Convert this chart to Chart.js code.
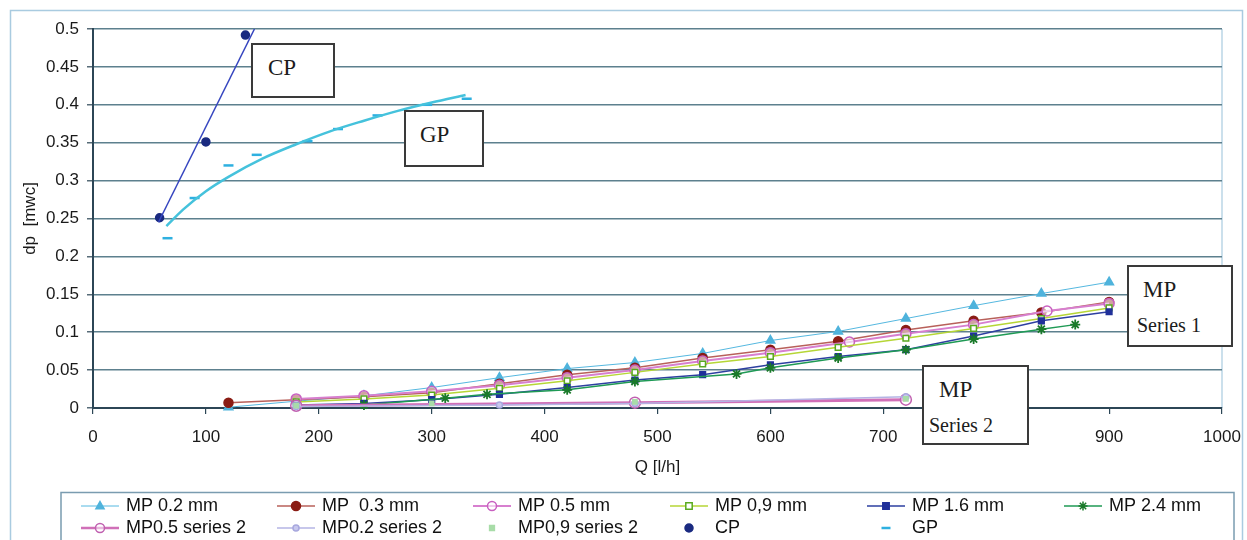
<!DOCTYPE html>
<html><head><meta charset="utf-8">
<script src="https://cdn.jsdelivr.net/npm/chart.js@4.4.1/dist/chart.umd.min.js"></script>
<style>
html,body{margin:0;padding:0;background:#fff;}
#wrap{position:relative;width:1247px;height:540px;overflow:hidden;background:#fff;}
#c{position:absolute;left:0;top:0;}
.note{position:absolute;background:#fff;border:2px solid #3a3a3a;box-sizing:border-box;font-family:"Liberation Serif","Times New Roman",serif;color:#1c1c1c;}
.note span{position:absolute;line-height:1;white-space:nowrap;}
</style></head><body>
<div id="wrap">
<canvas id="c" width="1247" height="540"></canvas>
<div class="note" style="left:251px;top:43px;width:84px;height:55px;"><span style="left:15px;top:11px;font-size:23px;">CP</span></div>
<div class="note" style="left:404px;top:110px;width:80px;height:57px;"><span style="left:14px;top:11px;font-size:23px;">GP</span></div>
<div class="note" style="left:1127px;top:265px;width:106px;height:82px;"><span style="left:14px;top:11px;font-size:23px;">MP</span><span style="left:8px;top:48px;font-size:20px;">Series 1</span></div>
<div class="note" style="left:922px;top:365px;width:107px;height:80px;"><span style="left:15px;top:11px;font-size:23px;">MP</span><span style="left:5px;top:48px;font-size:20px;">Series 2</span></div>
</div>
<script>
// ---- tick labels ----
const xTicks = [0,100,200,300,400,500,600,700,800,900,1000];
const yTickValues = [0,0.05,0.1,0.15,0.2,0.25,0.3,0.35,0.4,0.45,0.5];
const yTickLabels = ['0','0.05','0.1','0.15','0.2','0.25','0.3','0.35','0.4','0.45','0.5'];

// ---- series (Q [l/h], dp [mwc]) ----
const mp02Q = [120,180,240,300,360,420,480,540,600,660,720,780,840,900];
const mp02  = [0.001,0.009,0.016,0.027,0.040,0.052,0.060,0.072,0.089,0.101,0.118,0.135,0.151,0.166];
const mp03Q = [120,180,240,300,360,420,480,540,600,660,720,780,840,900];
const mp03  = [0.007,0.011,0.015,0.020,0.032,0.044,0.053,0.066,0.077,0.088,0.103,0.115,0.126,0.140];
const mp05Q = [180,240,300,360,420,480,540,600,670,720,780,845,900];
const mp05  = [0.012,0.016,0.022,0.030,0.040,0.050,0.062,0.073,0.087,0.098,0.110,0.128,0.138];
const mp09Q = [180,240,300,360,420,480,540,600,660,720,780,840,900];
const mp09  = [0.008,0.012,0.017,0.026,0.036,0.047,0.058,0.068,0.080,0.092,0.105,0.118,0.132];
const mp16Q = [180,240,300,360,420,480,540,600,660,720,780,840,900];
const mp16  = [0.004,0.006,0.011,0.018,0.027,0.037,0.044,0.057,0.068,0.077,0.095,0.115,0.127];
const mp24Q = [240,312,349,420,480,570,600,660,720,780,840,870];
const mp24  = [0.004,0.013,0.018,0.024,0.035,0.045,0.053,0.066,0.077,0.091,0.104,0.110];
const mp05s2Q = [180,480,720];
const mp05s2  = [0.003,0.007,0.011];
const mp02s2Q = [180,360,480,720];
const mp02s2  = [0.002,0.004,0.006,0.015];
const mp09s2Q = [180,300,480,720];
const mp09s2  = [0.003,0.006,0.008,0.012];
const cpQ  = [59,100,135];
const cpDp = [0.251,0.351,0.492];
const cpTrendQ  = [58,143];
const cpTrendDp = [0.245,0.500];
const gpQ  = [66,90,120,145,190,217,252,296,331];
const gpDp = [0.224,0.277,0.320,0.334,0.352,0.368,0.386,0.400,0.408];
const gpTrendQ  = [65,80,100,120,150,180,210,240,270,300,330];
const gpTrendDp = [0.240,0.262,0.286,0.305,0.329,0.348,0.365,0.379,0.392,0.403,0.413];

const labels = ['MP 0.2 mm','MP  0.3 mm','MP 0.5 mm','MP 0,9 mm','MP 1.6 mm','MP 2.4 mm',
                'MP0.5 series 2','MP0.2 series 2','MP0,9 series 2','CP','GP'];

const pts = (xs, ys) => xs.map((x, i) => ({x: x, y: ys[i]}));
const FONT = '"Liberation Sans", Arial, sans-serif';

const styles = [
  {line:'#55b8e0', lw:1, ps:'triangle', r:5, fill:'#4fb3dc', stroke:'#4fb3dc', show:true},
  {line:'#b8605a', lw:1.5, ps:'circle', r:4.5, fill:'#8a1c14', stroke:'#8a1c14', show:true},
  {line:'#d77fcf', lw:2, ps:'circle', r:5, fill:'rgba(255,255,255,0.6)', stroke:'#c860c0', show:true},
  {line:'#b6d636', lw:1.5, ps:'rect', r:4, fill:'#ffffff', stroke:'#5aaa20', show:true},
  {line:'#2d3fa0', lw:1.5, ps:'rect', r:4, fill:'#20309a', stroke:'#20309a', show:true},
  {line:'#1f9a55', lw:1.5, ps:'star', r:5, fill:'#1a7a2a', stroke:'#1a7a2a', show:true},
  {line:'#d070b8', lw:3, ps:'circle', r:5.5, fill:'rgba(255,255,255,0.5)', stroke:'#c060b0', show:true},
  {line:'#b4b4e4', lw:1.5, ps:'circle', r:3, fill:'#c8c8ee', stroke:'#a8a8de', show:true},
  {line:null, lw:0, ps:'rect', r:3, fill:'#a8dca8', stroke:'#a8dca8', show:false},
  {line:null, lw:0, ps:'circle', r:4, fill:'#1a2a80', stroke:'#1a2a80', show:false},
  {line:null, lw:0, ps:'line', r:5, fill:'#2eb0e0', stroke:'#2eb0e0', show:false}
];
const seriesData = [
  pts(mp02Q, mp02), pts(mp03Q, mp03), pts(mp05Q, mp05), pts(mp09Q, mp09), pts(mp16Q, mp16),
  pts(mp24Q, mp24), pts(mp05s2Q, mp05s2), pts(mp02s2Q, mp02s2), pts(mp09s2Q, mp09s2),
  pts(cpQ, cpDp), pts(gpQ, gpDp)
];

const datasets = seriesData.map((d, i) => {
  const s = styles[i];
  return {
    label: labels[i], data: d,
    showLine: s.show, borderColor: s.line || s.stroke, borderWidth: s.lw,
    pointStyle: s.ps, pointRadius: s.r, pointBackgroundColor: s.fill,
    pointBorderColor: s.stroke, pointBorderWidth: s.ps === 'line' ? 2.5 : (s.ps === 'star' ? 1.8 : 1.5),
    tension: 0, order: 20 - i, clip: false
  };
});
datasets.push({label:'CP trend', data: pts(cpTrendQ, cpTrendDp), showLine:true, borderColor:'#3545c0',
  borderWidth:1.5, pointRadius:0, order: 5});
datasets.push({label:'GP trend', data: pts(gpTrendQ, gpTrendDp), showLine:true, borderColor:'#45c2dc',
  borderWidth:2.5, pointRadius:0, cubicInterpolationMode:'monotone', order: 6});

function drawMarker(ctx, st, x, y) {
  const r = st.r;
  ctx.save();
  ctx.fillStyle = st.fill; ctx.strokeStyle = st.stroke;
  ctx.lineWidth = st.ps === 'line' ? 2.5 : 1.5;
  ctx.beginPath();
  if (st.ps === 'circle') { ctx.arc(x, y, r, 0, Math.PI * 2); ctx.fill(); ctx.stroke(); }
  else if (st.ps === 'rect') { ctx.rect(x - r * 0.8, y - r * 0.8, r * 1.6, r * 1.6); ctx.fill(); ctx.stroke(); }
  else if (st.ps === 'triangle') { ctx.moveTo(x, y - r); ctx.lineTo(x + r * 0.9, y + r * 0.6); ctx.lineTo(x - r * 0.9, y + r * 0.6); ctx.closePath(); ctx.fill(); ctx.stroke(); }
  else if (st.ps === 'star') {
    for (let k = 0; k < 4; k++) { const a = k * Math.PI / 4; ctx.moveTo(x - r * Math.cos(a), y - r * Math.sin(a)); ctx.lineTo(x + r * Math.cos(a), y + r * Math.sin(a)); }
    ctx.stroke();
  } else if (st.ps === 'line') { ctx.moveTo(x - r, y); ctx.lineTo(x + r, y); ctx.stroke(); }
  ctx.restore();
}

const framePlugin = {
  id: 'frame',
  beforeDraw(chart) {
    const ctx = chart.ctx;
    ctx.save();
    ctx.fillStyle = '#fff'; ctx.fillRect(0, 0, chart.width, chart.height);
    ctx.strokeStyle = '#a9cbe0'; ctx.lineWidth = 1.5;
    ctx.strokeRect(10.5, 10.5, 1232, 600);
    const a = chart.chartArea;
    ctx.strokeStyle = '#a9cbe0'; ctx.lineWidth = 1.2;
    ctx.beginPath(); ctx.moveTo(a.right, a.top); ctx.lineTo(a.right, a.bottom); ctx.stroke();
    ctx.restore();
  },
  afterDraw(chart) {
    const ctx = chart.ctx;
    ctx.save();
    // legend box
    ctx.strokeStyle = '#7a9cb0'; ctx.lineWidth = 1.5;
    ctx.strokeRect(61, 492.5, 1173, 80);
    const colX = [126, 322, 518, 715, 912, 1109];
    const rowY = [506, 528];
    ctx.font = '18px ' + FONT; ctx.fillStyle = '#111'; ctx.textBaseline = 'middle';
    labels.forEach((lab, i) => {
      const row = i < 6 ? 0 : 1, col = i < 6 ? i : i - 6;
      const tx = colX[col], ty = rowY[row];
      const st = styles[i];
      if (st.show) {
        ctx.strokeStyle = st.line; ctx.lineWidth = Math.min(st.lw, 2.5);
        ctx.beginPath(); ctx.moveTo(tx - 45, ty); ctx.lineTo(tx - 7, ty); ctx.stroke();
      }
      drawMarker(ctx, {...st, r: Math.min(st.r, 4.5)}, tx - 26, ty);
      ctx.fillStyle = '#111';
      ctx.fillText(lab, tx, ty);
    });
    ctx.restore();
  }
};

new Chart(document.getElementById('c'), {
  type: 'scatter',
  data: { datasets: datasets },
  options: {
    responsive: false, animation: false, devicePixelRatio: 1,
    layout: { padding: { left: 0, right: 25, top: 29, bottom: 62 } },
    plugins: { legend: { display: false }, tooltip: { enabled: false } },
    scales: {
      x: {
        type: 'linear', position: 'bottom', min: 0, max: 1000,
        afterFit: s => { s.height = 70; s.paddingLeft = 0; s.paddingRight = 0; },
        afterBuildTicks: s => { s.ticks = xTicks.map(v => ({value: v})); },
        ticks: { font: { size: 17, family: FONT }, color: '#1a1a1a', padding: 13, maxRotation: 0,
                 callback: v => String(v) },
        grid: { drawOnChartArea: false, drawTicks: true, tickLength: 6, color: '#2c4656', lineWidth: 1.2 },
        border: { display: true, color: '#2c4656', width: 2 },
        title: { display: true, text: 'Q [l/h]', font: { size: 17, family: FONT }, color: '#1a1a1a',
                 padding: { top: 0, bottom: 0 } }
      },
      y: {
        type: 'linear', min: 0, max: 0.5,
        afterFit: s => { s.width = 93; s.paddingTop = 0; s.paddingBottom = 0; },
        afterBuildTicks: s => { s.ticks = yTickValues.map(v => ({value: v})); },
        ticks: { font: { size: 17, family: FONT }, color: '#1a1a1a', padding: 8,
                 callback: (v, i) => yTickLabels[i] },
        grid: { color: '#5d808e', lineWidth: 1.6, tickLength: 6, tickColor: '#2c4656', tickWidth: 1.2 },
        border: { display: true, color: '#2c4656', width: 2 },
        title: { display: true, text: 'dp  [mwc]', font: { size: 17, family: FONT }, color: '#1a1a1a',
                 padding: { top: 20, bottom: 0 } }
      }
    }
  },
  plugins: [framePlugin]
});
</script>
</body></html>
